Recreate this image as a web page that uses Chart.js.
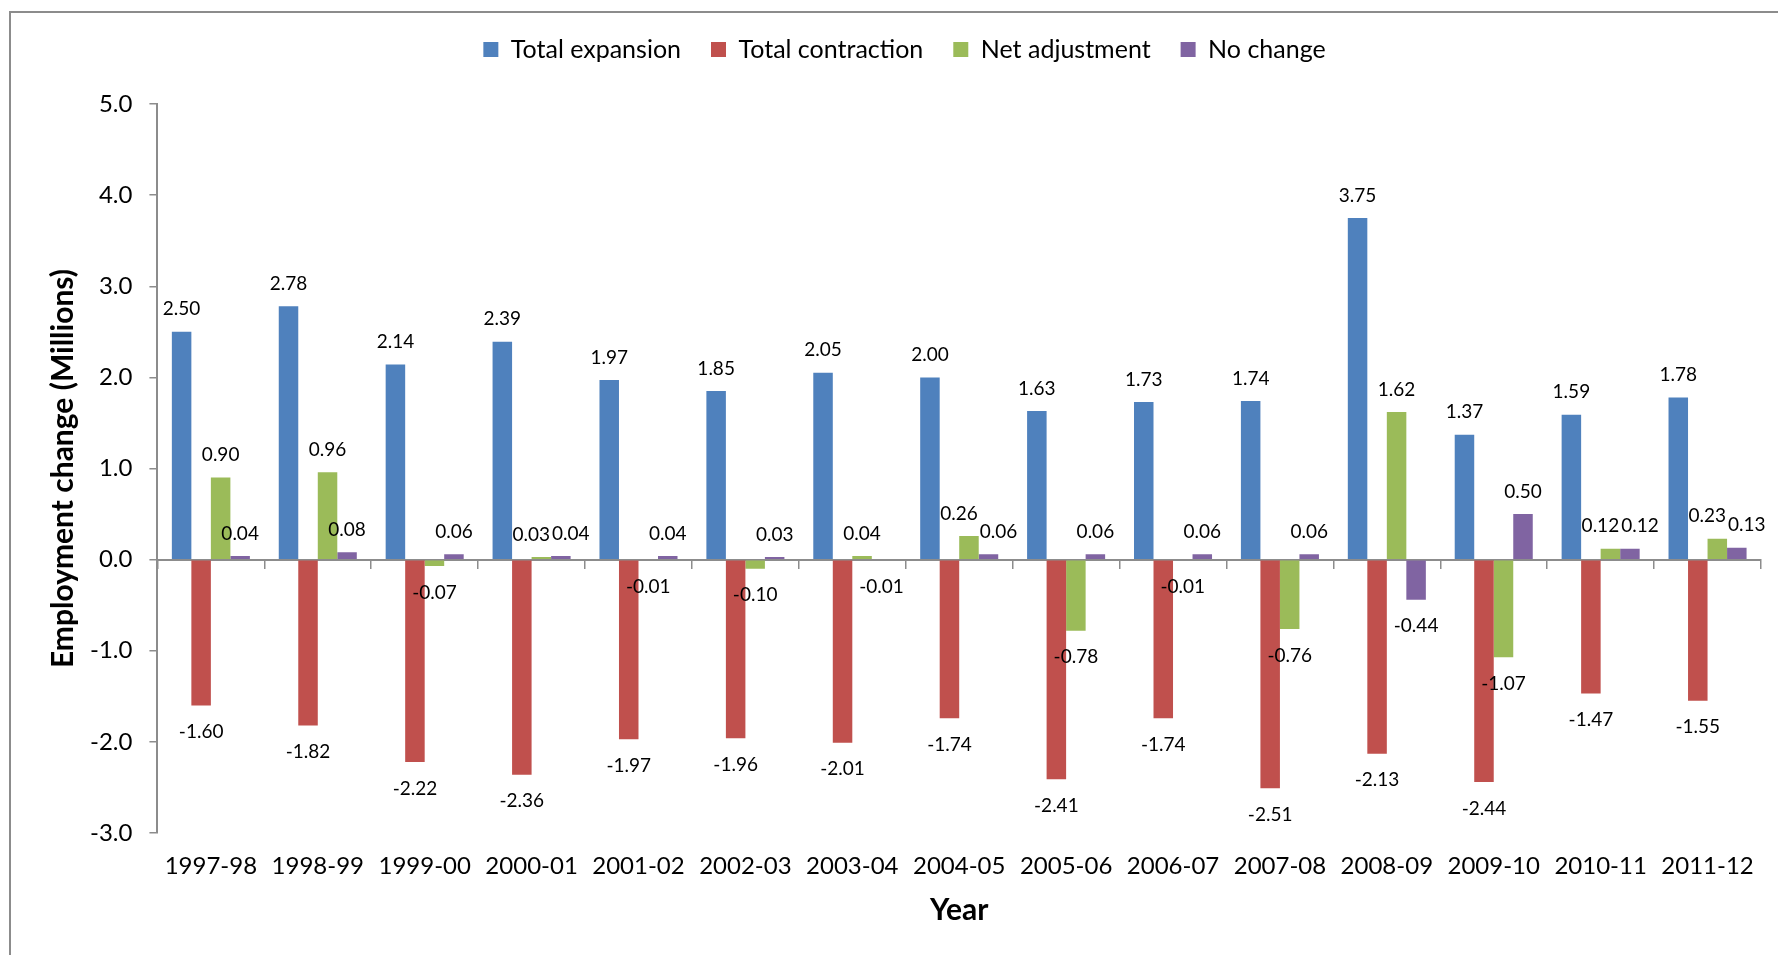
<!DOCTYPE html>
<html>
<head>
<meta charset="utf-8">
<title>Employment change</title>
<script src="https://cdn.jsdelivr.net/npm/chart.js@4.4.1/dist/chart.umd.min.js"></script>
<style>
  html, body { margin: 0; padding: 0; background: #fff; }
  #frame {
    position: absolute; left: 9px; top: 11px; width: 1800px; height: 1000px;
    border-left: 2px solid #8c8c8c; border-top: 2px solid #8c8c8c;
  }
  #wrap { position: absolute; left: 0; top: 0; width: 1778px; height: 955px; }
</style>
</head>
<body>
<div id="frame"></div>
<div id="wrap"><canvas id="jobsChart"></canvas></div>
<script>
// Years on the x axis
const years = ['1997-98', '1998-99', '1999-00', '2000-01', '2001-02', '2002-03', '2003-04', '2004-05',
    '2005-06', '2006-07', '2007-08', '2008-09', '2009-10', '2010-11', '2011-12'];

// Series values (millions)
const totalExpansion = [2.50, 2.78, 2.14, 2.39, 1.97, 1.85, 2.05, 2.00, 1.63, 1.73, 1.74, 3.75, 1.37, 1.59, 1.78];
const totalContraction = [-1.60, -1.82, -2.22, -2.36, -1.97, -1.96, -2.01, -1.74, -2.41, -1.74, -2.51, -2.13, -2.44, -1.47, -1.55];
const netAdjustment = [0.90, 0.96, -0.07, 0.03, -0.01, -0.10, 0.04, 0.26, -0.78, -0.01, -0.76, 1.62, -1.07, 0.12, 0.23];
const noChange = [0.04, 0.08, 0.06, 0.04, 0.04, 0.03, -0.01, 0.06, 0.06, 0.06, 0.06, -0.44, 0.50, 0.12, 0.13];

// Y axis range
const yMin = -3;
const yMax = 5;
const yStep = 1;

const axisGrey = '#8c8c8c';
const fontName = 'Lato';

// Value labels drawn at the end of each bar (nudged apart when they collide)
const valueLabels = {
    id: 'valueLabels',
    afterDatasetsDraw(chart) {
        const ctx = chart.ctx;
        ctx.save();
        ctx.font = '19px ' + fontName;
        ctx.fillStyle = '#000';
        ctx.textAlign = 'center';
        ctx.textBaseline = 'middle';
        const textH = 19;

        chart.data.labels.forEach((_, j) => {
            const items = [];
            chart.data.datasets.forEach((ds, i) => {
                const bar = chart.getDatasetMeta(i).data[j];
                const v = ds.data[j];
                const text = v.toFixed(2);
                const y = v >= 0 ? bar.y - 15 - textH / 2 + 2 : bar.y + 17 + textH / 2;
                items.push({ text, x: bar.x, y, w: ctx.measureText(text).width });
            });
            for (let k = 1; k < items.length; k++) {
                const a = items[k - 1], b = items[k];
                if (Math.abs(a.y - b.y) >= textH) continue;
                const gap = (b.x - b.w / 2) - (a.x + a.w / 2) - 2;
                if (gap < 0) {
                    a.x += gap / 2;
                    b.x -= gap / 2;
                }
            }
            items.forEach(it => ctx.fillText(it.text, it.x, it.y));
        });
        ctx.restore();
    }
};

// Leave more room under the legend
const legendSpace = {
    id: 'legendSpace',
    beforeInit(chart) {
        const origFit = chart.legend.fit;
        chart.legend.fit = function () {
            origFit.bind(chart.legend)();
            this.height = 97;
        };
    }
};

const ctx = document.getElementById('jobsChart').getContext('2d');
new Chart(ctx, {
    type: 'bar',
    data: {
        labels: years,
        datasets: [
            { label: 'Total expansion', data: totalExpansion, backgroundColor: '#4F81BD' },
            { label: 'Total contraction', data: totalContraction, backgroundColor: '#C0504D' },
            { label: 'Net adjustment', data: netAdjustment, backgroundColor: '#9BBB59' },
            { label: 'No change', data: noChange, backgroundColor: '#8064A2' }
        ]
    },
    options: {
        responsive: true,
        maintainAspectRatio: false,
        animation: false,
        categoryPercentage: 0.73,
        barPercentage: 1.0,
        layout: { padding: { top: 7, right: 17, bottom: 30, left: 48 } },
        plugins: {
            legend: {
                position: 'top',
                labels: {
                    color: '#000',
                    font: { family: fontName, size: 25 },
                    boxWidth: 15,
                    boxHeight: 15,
                    padding: 30
                }
            },
            tooltip: { enabled: false }
        },
        scales: {
            x: {
                grid: { display: false },
                border: { display: false },
                ticks: {
                    color: '#000',
                    font: { family: fontName, size: 24, lineHeight: 1 },
                    padding: 13,
                    maxRotation: 0,
                    autoSkip: false
                },
                title: {
                    display: true,
                    text: 'Year',
                    color: '#000',
                    font: { family: fontName, size: 30, weight: 'bold', lineHeight: 1 },
                    padding: { top: 4, bottom: 0 }
                }
            },
            x2: {
                type: 'category',
                position: { y: 0 },
                offset: true,
                grid: {
                    offset: true,
                    drawOnChartArea: false,
                    drawTicks: true,
                    tickLength: 8,
                    color: axisGrey,
                    lineWidth: 1.5
                },
                border: { display: true, color: axisGrey, width: 2 },
                ticks: { display: false }
            },
            y: {
                min: yMin,
                max: yMax,
                ticks: {
                    stepSize: yStep,
                    color: '#000',
                    font: { family: fontName, size: 24 },
                    padding: 17,
                    callback: v => v.toFixed(1)
                },
                grid: {
                    drawOnChartArea: false,
                    drawTicks: true,
                    tickLength: 8,
                    color: axisGrey,
                    lineWidth: 1.5
                },
                border: { display: true, color: axisGrey, width: 2 },
                title: {
                    display: true,
                    text: 'Employment change (Millions)',
                    color: '#000',
                    font: { family: fontName, size: 30, weight: 'bold', lineHeight: 1 },
                    padding: { top: 0, bottom: -5 }
                }
            }
        }
    },
    plugins: [valueLabels, legendSpace]
});
</script>
</body>
</html>
